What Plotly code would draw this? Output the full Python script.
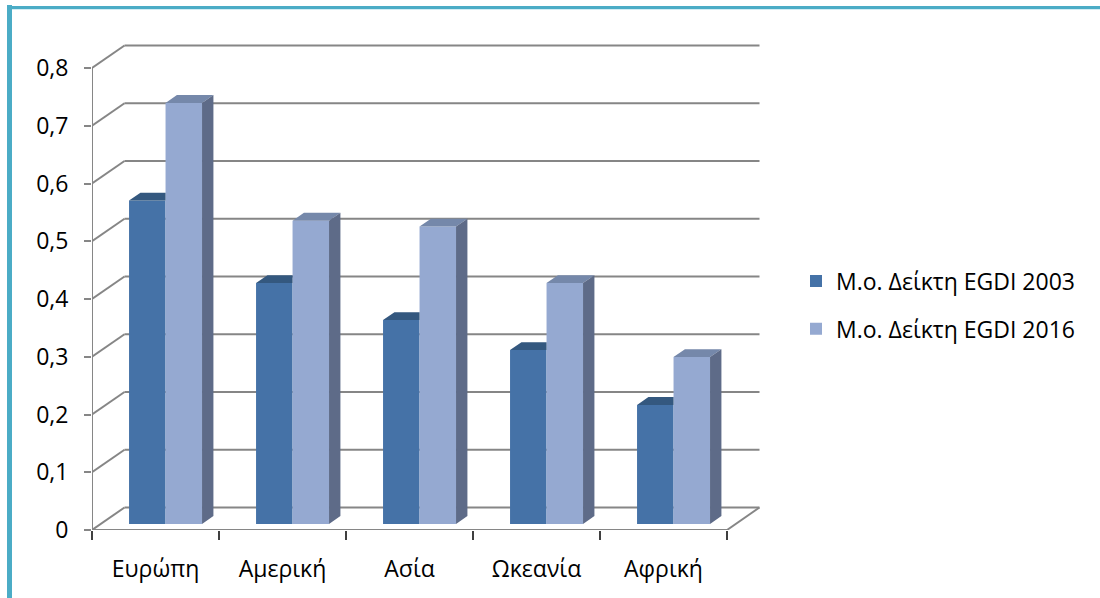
import plotly.graph_objects as go

# ---------------- data ----------------
categories = ["Ευρώπη", "Αμερική", "Ασία", "Ωκεανία", "Αφρική"]
series_names = ["Μ.ο. Δείκτη EGDI 2003", "Μ.ο. Δείκτη EGDI 2016"]
egdi_2003 = [0.560, 0.417, 0.353, 0.301, 0.206]
egdi_2016 = [0.729, 0.525, 0.515, 0.417, 0.289]
y_ticks = [0, 0.1, 0.2, 0.3, 0.4, 0.5, 0.6, 0.7, 0.8]

# ---------------- layout geometry ----------------
W, H = 1100, 598
ML, MR, MT, MB = 92, 340, 40, 68
plot_w = W - ML - MR
plot_h = H - MT - MB
PX_X = 127.0      # px per category
PX_Y = 577.5      # px per value unit
x_range = [0, plot_w / PX_X]
y_range = [0, plot_h / PX_Y]
n = len(categories)

DX = 32.5 / PX_X  # back-wall offset (depth) in data units
DY = 22.5 / PX_Y
f0, f1 = 0.27, 0.62  # bar front/back depth fractions
sx, sy = f0 * DX, f0 * DY
ddx, ddy = (f1 - f0) * DX, (f1 - f0) * DY
bar_w = 36.5 / PX_X
center = 0.51

c03_front, c03_top = "#4572A7", "#34587F"
c16_front, c16_top, c16_side = "#95A9D1", "#7588AA", "#5E6B88"
grid_c = "#868686"
FONT = "Open Sans"
FS = 23


def px2x(p):
    return (p - ML) / plot_w


def py2y(p):
    return (H - MB - p) / plot_h


fig = go.Figure()

xs = [k + center + sx for k in range(n)]

# front faces (bars)
fig.add_trace(go.Bar(x=xs, y=egdi_2003, base=sy, width=bar_w, offset=-bar_w,
                     marker=dict(color=c03_front, line=dict(width=0)),
                     name=series_names[0], legendgroup="a"))
fig.add_trace(go.Bar(x=xs, y=egdi_2016, base=sy, width=bar_w, offset=0,
                     marker=dict(color=c16_front, line=dict(width=0)),
                     name=series_names[1], legendgroup="b"))

# top faces 2003 (clipped by 2016 bar in front)
tx, ty = [], []
for k, v in enumerate(egdi_2003):
    xl, xr, t = xs[k] - bar_w, xs[k], v + sy
    tx += [xl, xr, xr, xl + ddx, xl, None]
    ty += [t, t, t + ddy, t + ddy, t, None]
fig.add_trace(go.Scatter(x=tx, y=ty, fill="toself", fillcolor=c03_top, mode="lines",
                         line=dict(width=0, color=c03_top), showlegend=False, hoverinfo="skip"))

# top + side faces 2016
tx, ty, sxs, sys_ = [], [], [], []
for k, v in enumerate(egdi_2016):
    xl, xr, t = xs[k], xs[k] + bar_w, v + sy
    tx += [xl, xr, xr + ddx, xl + ddx, xl, None]
    ty += [t, t, t + ddy, t + ddy, t, None]
    sxs += [xr, xr + ddx, xr + ddx, xr, xr, None]
    sys_ += [sy, sy + ddy, t + ddy, t, sy, None]
fig.add_trace(go.Scatter(x=tx, y=ty, fill="toself", fillcolor=c16_top, mode="lines",
                         line=dict(width=0, color=c16_top), showlegend=False, hoverinfo="skip"))
fig.add_trace(go.Scatter(x=sxs, y=sys_, fill="toself", fillcolor=c16_side, mode="lines",
                         line=dict(width=0, color=c16_side), showlegend=False, hoverinfo="skip"))

# ---------------- gridlines / walls ----------------
shapes = []
gl = dict(color=grid_c, width=2)
for v in y_ticks:
    shapes.append(dict(type="line", xref="x", yref="y", x0=DX, x1=n + DX, y0=v + DY, y1=v + DY,
                       line=gl, layer="below"))
    shapes.append(dict(type="line", xref="x", yref="y", x0=0, x1=DX, y0=v, y1=v + DY,
                       line=gl, layer="below"))
# front axes
shapes.append(dict(type="line", xref="x", yref="y", x0=0, x1=0, y0=0, y1=y_ticks[-1], line=gl, layer="below"))
shapes.append(dict(type="line", xref="x", yref="y", x0=0, x1=n, y0=0, y1=0, line=gl, layer="below"))
shapes.append(dict(type="line", xref="x", yref="y", x0=n, x1=n + DX, y0=0, y1=DY, line=gl, layer="below"))

# frame border (teal)
teal = "#4BACC6"
shapes.append(dict(type="line", xref="paper", yref="paper", x0=px2x(9.5), x1=px2x(9.5),
                   y0=py2y(5), y1=py2y(H + 5), line=dict(color=teal, width=5)))
shapes.append(dict(type="line", xref="paper", yref="paper", x0=px2x(7), x1=px2x(W + 5),
                   y0=py2y(7.5), y1=py2y(7.5), line=dict(color=teal, width=3)))
shapes.append(dict(type="line", xref="paper", yref="paper", x0=px2x(12), x1=px2x(W + 5),
                   y0=py2y(9.5), y1=py2y(9.5), line=dict(color="#D3EDF4", width=1)))

fig.update_layout(
    width=W, height=H,
    margin=dict(l=ML, r=MR, t=MT, b=MB, pad=0),
    paper_bgcolor="white", plot_bgcolor="white",
    separators=",.",
    barmode="overlay",
    font=dict(family=FONT, size=FS, color="#000000"),
    shapes=shapes,
    showlegend=True,
    legend=dict(x=px2x(796), y=py2y(305), xanchor="left", yanchor="middle",
                xref="paper", yref="paper",
                font=dict(family=FONT, size=FS, color="#000000"),
                traceorder="grouped", tracegroupgap=15, itemwidth=30,
                bgcolor="rgba(0,0,0,0)"),
    xaxis=dict(range=x_range, showgrid=False, zeroline=False, showline=False,
               tickmode="array", tickvals=[k + 0.5 for k in range(n)], ticktext=categories,
               ticks="", ticklabelstandoff=23,
               minor=dict(tickmode="array", tickvals=list(range(n + 1)), ticks="outside",
                          ticklen=9, tickwidth=2, tickcolor="#404040", showgrid=False)),
    yaxis=dict(range=y_range, showgrid=False, zeroline=False, showline=False,
               tickmode="array", tickvals=y_ticks, ticks="outside", ticklen=7,
               tickwidth=2, tickcolor=grid_c, ticklabelstandoff=11),
)

fig.write_html("out.html")
